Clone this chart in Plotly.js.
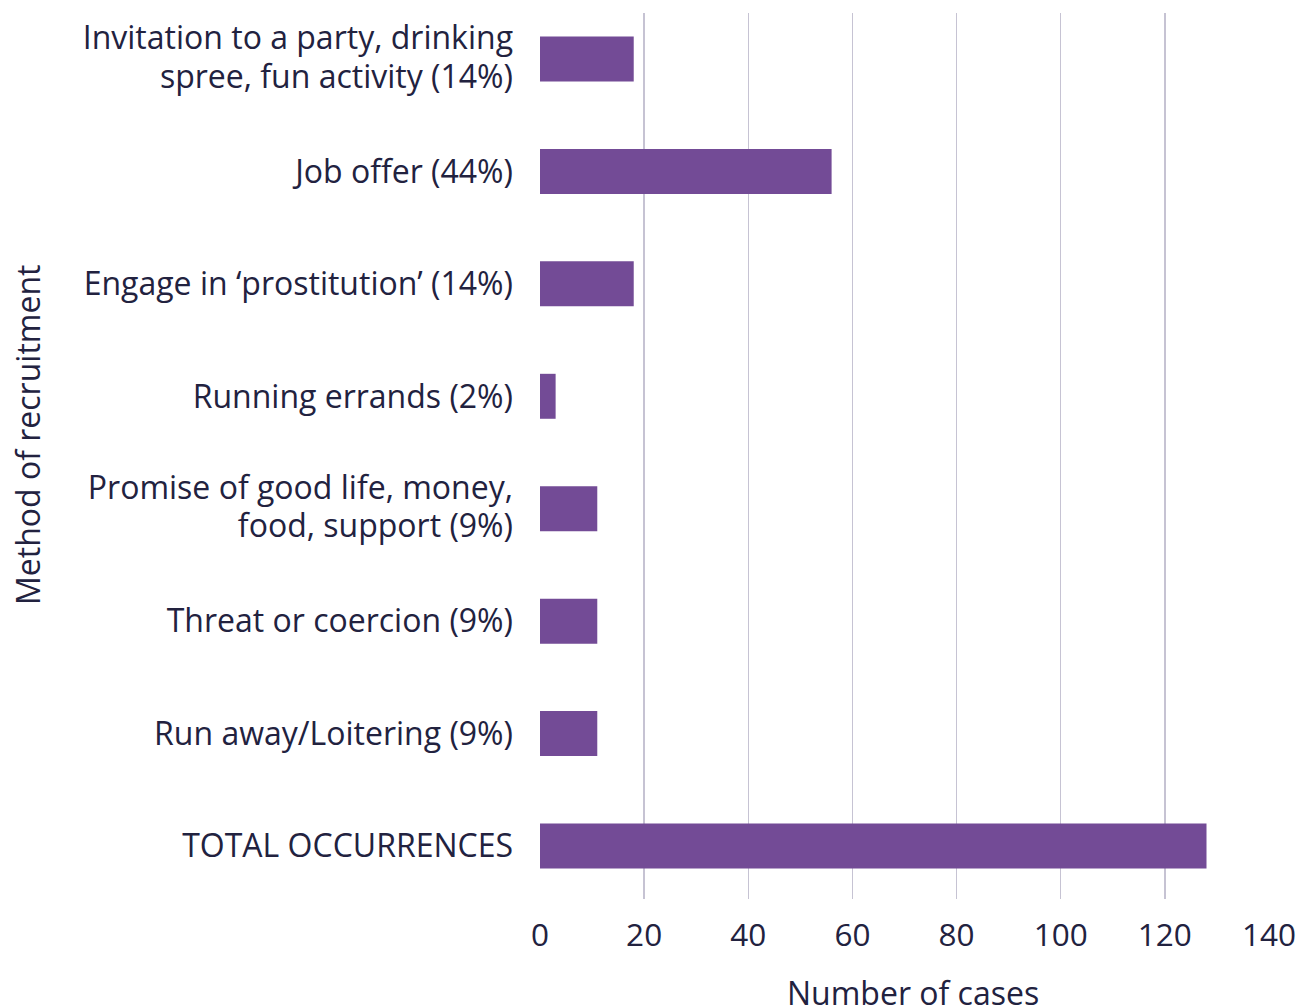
<!DOCTYPE html>
<html>
<head>
<meta charset="utf-8">
<script src="https://cdn.plot.ly/plotly-3.0.1.min.js"></script>
<style>html,body{margin:0;padding:0;background:#fff;}#chart{width:1299px;height:1005px;}</style>
</head>
<body>
<div id="chart"></div>
<script>
const categories = [
  "Invitation to a party, drinking<br>spree, fun activity (14%)",
  "Job offer (44%)",
  "Engage in ‘prostitution’ (14%)",
  "Running errands (2%)",
  "Promise of good life, money,<br>food, support (9%)",
  "Threat or coercion (9%)",
  "Run away/Loitering (9%)",
  "TOTAL OCCURRENCES"
];
const cases = [18, 56, 18, 3, 11, 11, 11, 128];
const xTicks = [0, 20, 40, 60, 80, 100, 120, 140];
const xTitle = "Number of cases";
const yTitle = "Method of recruitment";

const textColor = "#22223f";
const font = {family: "Open Sans, sans-serif", size: 32, color: textColor};
const tickFontX = {family: "Open Sans, sans-serif", size: 31.5, color: textColor};

const trace = {
  type: "bar",
  orientation: "h",
  x: cases,
  y: categories,
  width: 0.4,
  marker: {color: "#734b96"},
  hoverinfo: "x+y"
};

const layout = {
  width: 1299,
  height: 1005,
  margin: {l: 540, r: 30, t: 13, b: 106},
  paper_bgcolor: "#ffffff",
  plot_bgcolor: "#ffffff",
  font: font,
  showlegend: false,
  xaxis: {
    range: [0, 140],
    tickvals: xTicks,
    ticktext: xTicks.map(String),
    showgrid: true,
    gridcolor: "#c6c3d3",
    gridwidth: 1.3,
    zeroline: false,
    showline: false,
    ticks: "",
    ticklabelstandoff: 14,
    tickfont: tickFontX
  },
  yaxis: {
    type: "category",
    categoryorder: "array",
    categoryarray: categories,
    range: [7.471, -0.409],
    showgrid: false,
    zeroline: false,
    showline: false,
    ticks: "",
    ticklabelstandoff: 26,
    tickfont: font
  },
  annotations: [
    {text: xTitle, xref: "paper", yref: "paper", x: 0.511, y: 0, yshift: -93,
     showarrow: false, font: font, xanchor: "center", yanchor: "middle"},
    {text: yTitle, xref: "paper", yref: "paper", x: 0, xshift: -513, y: 0.5237,
     showarrow: false, font: font, textangle: -90, xanchor: "center", yanchor: "middle"}
  ]
};

Plotly.newPlot("chart", [trace], layout, {displayModeBar: false, staticPlot: true}).then(function () {
  // tighten line spacing of the two-line category labels to match the reference
  document.querySelectorAll(".ytick text tspan.line").forEach(function (t) {
    const dy = t.getAttribute("dy");
    if (dy && parseFloat(dy) > 0) t.setAttribute("dy", (parseFloat(dy) * 0.92) + "em");
  });
});
</script>
</body>
</html>
